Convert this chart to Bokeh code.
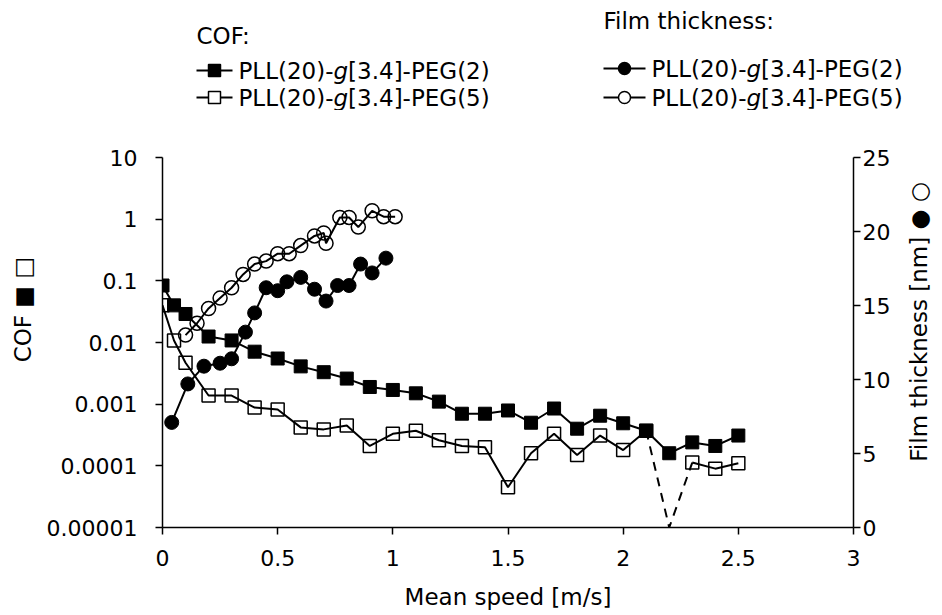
import math
from bokeh.plotting import figure
from bokeh.models import (Range1d, LinearAxis, LinearScale, FixedTicker,
                          CustomJSTickFormatter)
from bokeh.layouts import column
from bokeh.embed import file_html
from bokeh.resources import INLINE
from bokeh.core.properties import value

# ---------------- data ----------------
speed_cof = [0, 0.05, 0.1, 0.2, 0.3, 0.4, 0.5, 0.6, 0.7, 0.8, 0.9, 1.0, 1.1, 1.2,
             1.3, 1.4, 1.5, 1.6, 1.7, 1.8, 1.9, 2.0, 2.1, 2.2, 2.3, 2.4, 2.5]
cof_peg2 = [0.084, 0.040, 0.029, 0.0125, 0.0108, 0.0071, 0.0055, 0.0041, 0.0033,
            0.0026, 0.0019, 0.0017, 0.0015, 0.0011, 0.00070, 0.00070, 0.00079,
            0.00050, 0.00085, 0.00040, 0.00065, 0.00049, 0.00037, 0.00016,
            0.00024, 0.00021, 0.00031]
# value at 2.2 m/s is below the axis (not plotted) -> None
cof_peg5 = [0.040, 0.0108, 0.0047, 0.00138, 0.00138, 0.00088, 0.00082, 0.00042,
            0.00039, 0.00045, 0.00021, 0.00033, 0.00037, 0.00026, 0.00021,
            0.00020, 0.000045, 0.00016, 0.00033, 0.00015, 0.00031, 0.00018,
            0.00037, None, 0.000113, 0.000090, 0.00011]

speed_ft2 = [0.04, 0.11, 0.18, 0.25, 0.30, 0.36, 0.40, 0.45, 0.50, 0.54, 0.60,
             0.66, 0.71, 0.76, 0.81, 0.86, 0.91, 0.97]
ft_peg2 = [7.1, 9.7, 10.9, 11.1, 11.4, 13.2, 14.5, 16.2, 16.0, 16.6, 16.9,
           16.1, 15.3, 16.35, 16.35, 17.8, 17.2, 18.2]

speed_ft5 = [0.10, 0.15, 0.20, 0.25, 0.30, 0.35, 0.40, 0.45, 0.50, 0.55, 0.60,
             0.66, 0.70, 0.71, 0.77, 0.81, 0.85, 0.91, 0.96, 1.01]
ft_peg5 = [13.0, 13.8, 14.8, 15.5, 16.2, 17.1, 17.8, 18.0, 18.5, 18.5, 19.05,
           19.7, 19.9, 19.2, 20.95, 20.95, 20.3, 21.4, 21.0, 21.0]

x_ticks = [0, 0.5, 1, 1.5, 2, 2.5, 3]
cof_ticks = [0.00001, 0.0001, 0.001, 0.01, 0.1, 1, 10]
ft_ticks = [0, 5, 10, 15, 20, 25]

x_label = "Mean speed [m/s]"
cof_label = "COF \u25a0 \u25a1"
ft_label = "Film thickness [nm] \u25cf \u25cb"
cof_title = "COF:"
ft_title = "Film thickness:"
series_prefix = "PLL(20)-"
series_italic = "g"
series_suffix = ["[3.4]-PEG(2)", "[3.4]-PEG(5)"]

# ---------------- style / geometry ----------------
FONT = "DejaVu Sans"
TICK_SIZE = "22px"
LABEL_SIZE = "23px"
LEG_FONT = 23
NBSP = "\u00a0"
TOTAL_W, TOTAL_H = 942, 615
F_LEFT, F_RIGHT, F_TOP, F_BOTTOM = 162, 853, 157, 527
LEG_H = 110

COF_MIN, COF_MAX = cof_ticks[0], cof_ticks[-1]

# ---------------- main figure ----------------
p = figure(frame_width=F_RIGHT - F_LEFT, frame_height=F_BOTTOM - F_TOP,
           x_range=Range1d(x_ticks[0], x_ticks[-1]),
           y_range=Range1d(COF_MIN, COF_MAX), y_axis_type="log",
           output_backend="svg", toolbar_location=None,
           min_border_left=F_LEFT, min_border_right=TOTAL_W - F_RIGHT,
           min_border_top=F_TOP - LEG_H, min_border_bottom=TOTAL_H - F_BOTTOM)
p.extra_y_ranges = {"ft": Range1d(ft_ticks[0], ft_ticks[-1])}
p.extra_y_scales = {"ft": LinearScale()}
p.outline_line_color = None
p.xgrid.grid_line_color = None
p.ygrid.grid_line_color = None
p.background_fill_color = "white"
p.border_fill_color = "white"

right_axis = LinearAxis(y_range_name="ft")
p.add_layout(right_axis, "right")

p.xaxis.ticker = FixedTicker(ticks=x_ticks)
p.xaxis.formatter = CustomJSTickFormatter(code="return String(Math.round(tick*10)/10);")
p.yaxis[0].ticker = FixedTicker(ticks=cof_ticks)
p.yaxis[0].formatter = CustomJSTickFormatter(
    code="return tick >= 1 ? tick.toFixed(0) : tick.toFixed(Math.round(-Math.log10(tick)));")
right_axis.ticker = FixedTicker(ticks=ft_ticks)

for ax in [p.xaxis[0], p.yaxis[0], right_axis]:
    ax.axis_line_color = "black"
    ax.axis_line_width = 1.5
    ax.major_tick_line_color = "black"
    ax.major_tick_line_width = 1.5
    ax.major_tick_in = 0
    ax.major_tick_out = 7
    ax.minor_tick_line_color = None
    ax.major_label_text_font = FONT
    ax.major_label_text_font_size = TICK_SIZE
    ax.major_label_text_color = "black"
    ax.axis_label_text_font = FONT
    ax.axis_label_text_font_size = LABEL_SIZE
    ax.axis_label_text_font_style = "normal"
    ax.axis_label_text_color = "black"

p.xaxis.major_label_text_line_height = 1.0
p.xaxis.axis_label_text_line_height = 1.0
p.xaxis.major_label_standoff = 15
p.xaxis.axis_label = x_label
p.xaxis.axis_label_standoff = 15

p.yaxis[0].major_label_standoff = 18
p.yaxis[0].axis_label = NBSP * 9 + cof_label
p.yaxis[0].axis_label_standoff = 8

right_axis.major_label_standoff = 2
right_axis.axis_label_text_line_height = 1.0
right_axis.axis_label_standoff = 26
props = right_axis.properties()
if "axis_label_align" in props:
    # title reads bottom-to-top, starting from the bottom of the axis
    right_axis.axis_label_orientation = math.pi / 2
    right_axis.axis_label_align = "start"
    right_axis.axis_label = NBSP * 9 + ft_label
else:
    right_axis.axis_label = ft_label

# COF series
p.line(speed_cof, cof_peg2, line_color="black", line_width=2)
p.scatter(speed_cof, cof_peg2, marker="square", size=13,
          fill_color="black", line_color="black")

cof5_line = [float("nan") if v is None else v for v in cof_peg5]
p.line(speed_cof, cof5_line, line_color="black", line_width=2)
p.scatter(speed_cof, cof5_line, marker="square", size=13,
          fill_color=None, line_color="black", line_width=1.5)
# dashed drop to the axis where a value is off-scale
for i, v in enumerate(cof_peg5):
    if v is None and 0 < i < len(cof_peg5) - 1:
        p.line([speed_cof[i - 1], speed_cof[i], speed_cof[i + 1]],
               [cof_peg5[i - 1], COF_MIN, cof_peg5[i + 1]],
               line_color="black", line_width=2, line_dash="9 7")

# film thickness series
p.line(speed_ft2, ft_peg2, y_range_name="ft", line_color="black", line_width=2)
p.scatter(speed_ft2, ft_peg2, y_range_name="ft", marker="circle", size=14,
          fill_color="black", line_color="black")
p.line(speed_ft5, ft_peg5, y_range_name="ft", line_color="black", line_width=2)
p.scatter(speed_ft5, ft_peg5, y_range_name="ft", marker="circle", size=14,
          fill_color=None, line_color="black", line_width=1.5)

# ---------------- legend figure (page-pixel coordinates) ----------------
leg = figure(frame_width=TOTAL_W - F_LEFT, frame_height=LEG_H,
             x_range=Range1d(F_LEFT, TOTAL_W), y_range=Range1d(LEG_H, 0),
             output_backend="svg", toolbar_location=None,
             min_border_left=F_LEFT, min_border_right=0, min_border_top=0,
             min_border_bottom=0, x_axis_location=None, y_axis_location=None)
leg.outline_line_color = None
leg.xgrid.grid_line_color = None
leg.ygrid.grid_line_color = None

EM = {'P': 0.603, 'L': 0.557, '(': 0.390, ')': 0.390, '2': 0.636, '0': 0.636,
      '-': 0.361, 'g': 0.635, '[': 0.390, ']': 0.390, '3': 0.636, '.': 0.318,
      '4': 0.636, 'E': 0.632, 'G': 0.775, '5': 0.636}


def tw(s):
    return sum(EM.get(c, 0.6) for c in s) * LEG_FONT


groups = [
    dict(x=196, title=cof_title, ty=35, rows=[70, 97], marker="square", size=12,
         line_len=36),
    dict(x=603, title=ft_title, ty=20, rows=[68, 97], marker="circle", size=12,
         line_len=42),
]
for g in groups:
    leg.text([g["x"]], [g["ty"]], text=[g["title"]], text_font=value(FONT),
             text_font_size=f"{LEG_FONT}px", text_baseline="middle",
             text_color="black")
    for k, ry in enumerate(g["rows"]):
        x0 = g["x"]
        x1 = x0 + g["line_len"]
        leg.line([x0, x1], [ry, ry], line_color="black", line_width=2)
        leg.scatter([(x0 + x1) / 2], [ry], marker=g["marker"], size=g["size"],
                    fill_color="black" if k == 0 else "white",
                    line_color="black", line_width=1.5)
        tx = x1 + 6
        leg.text([tx], [ry], text=[series_prefix], text_font=value(FONT),
                 text_font_size=f"{LEG_FONT}px", text_baseline="middle",
                 text_color="black")
        tx += tw(series_prefix)
        leg.text([tx], [ry], text=[series_italic], text_font=value(FONT),
                 text_font_size=f"{LEG_FONT}px", text_font_style="italic",
                 text_baseline="middle", text_color="black")
        tx += tw(series_italic)
        leg.text([tx], [ry], text=[series_suffix[k]], text_font=value(FONT),
                 text_font_size=f"{LEG_FONT}px", text_baseline="middle",
                 text_color="black")

layout = column(leg, p, spacing=0)
open("out.html", "w").write(file_html(layout, INLINE))
